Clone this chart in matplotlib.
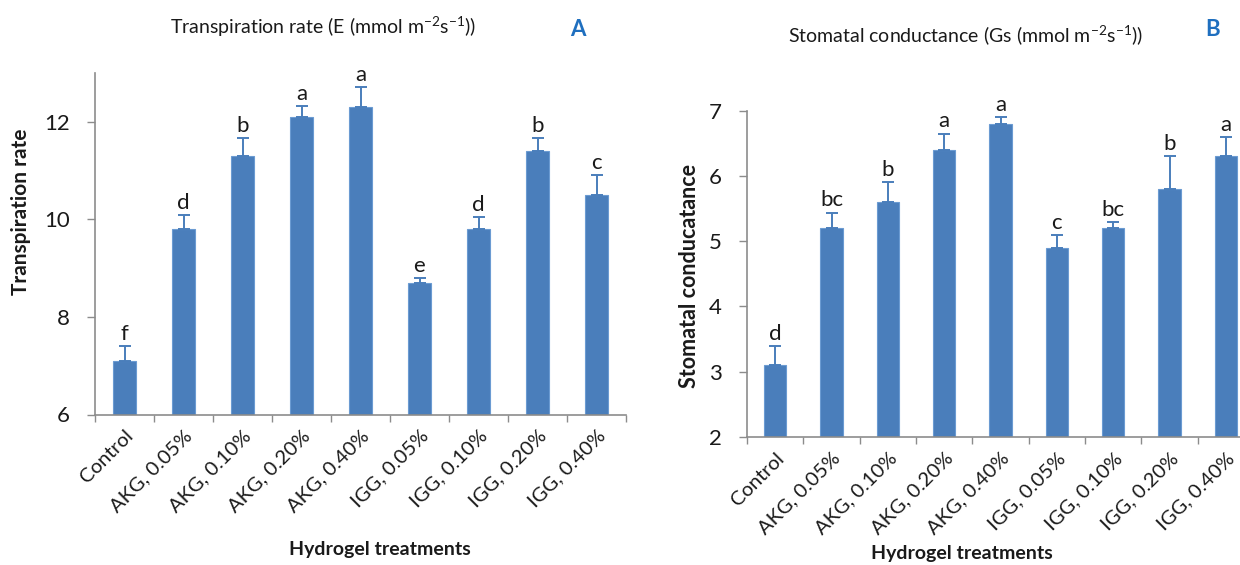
import numpy as np
import matplotlib
matplotlib.use("Agg")
import matplotlib.pyplot as plt

plt.rcParams["font.family"] = ["Lato", "DejaVu Sans"]
plt.rcParams["mathtext.fontset"] = "custom"
plt.rcParams["mathtext.rm"] = "Lato"
plt.rcParams["mathtext.it"] = "Lato:italic"
plt.rcParams["mathtext.bf"] = "Lato:bold"

treatments = ["Control", "AKG, 0.05%", "AKG, 0.10%", "AKG, 0.20%", "AKG, 0.40%",
              "IGG, 0.05%", "IGG, 0.10%", "IGG, 0.20%", "IGG, 0.40%"]

# transpiration rate, E
transp = [7.1, 9.8, 11.3, 12.1, 12.3, 8.7, 9.8, 11.4, 10.5]
transp_err = [0.30, 0.28, 0.37, 0.22, 0.41, 0.10, 0.24, 0.27, 0.41]
transp_letters = ["f", "d", "b", "a", "a", "e", "d", "b", "c"]

# stomatal conductance, Gs
cond = [3.1, 5.2, 5.6, 6.4, 6.8, 4.9, 5.2, 5.8, 6.3]
cond_err = [0.29, 0.24, 0.30, 0.25, 0.10, 0.20, 0.10, 0.50, 0.30]
cond_letters = ["d", "bc", "b", "a", "a", "c", "bc", "b", "a"]

BAR = "#4a7ebb"
EDGE = "#6b9bd2"
AXIS = "#8c8c8c"
TEXT = "#1a1a1a"
PANEL = "#1f6fbf"


def draw_panel(ax, values, errors, letters, ylim, yticks):
    x = np.arange(len(values))
    ax.bar(x, values, width=0.4, color=BAR, edgecolor=EDGE, linewidth=0.8,
           bottom=0, zorder=2)
    ax.errorbar(x, values, yerr=[np.zeros(len(errors)), errors], fmt="none",
                ecolor=BAR, elinewidth=1.4, capsize=4, capthick=1.4, zorder=3)
    for xi, v, e, lab in zip(x, values, errors, letters):
        ax.annotate(lab, (xi, v + e), xytext=(0, 1.5), textcoords="offset points",
                    ha="center", va="bottom", fontsize=16, color=TEXT)
    ax.set_xlim(-0.5, len(values) - 0.5)
    ax.set_ylim(*ylim)
    ax.set_yticks(yticks)
    ax.set_xticks(x)
    ax.set_xticklabels(treatments, rotation=45, ha="right",
                       rotation_mode="anchor", fontsize=14.5, color=TEXT)
    ax.set_xticks(np.arange(len(values) + 1) - 0.5, minor=True)
    ax.tick_params(axis="x", which="major", length=0, pad=9)
    ax.tick_params(axis="x", which="minor", length=5, width=1, color=AXIS)
    ax.tick_params(axis="y", length=6, width=1, color=AXIS, labelsize=16,
                   labelcolor=TEXT, pad=12)
    for side in ("top", "right"):
        ax.spines[side].set_visible(False)
    for side in ("left", "bottom"):
        ax.spines[side].set_color(AXIS)
        ax.spines[side].set_linewidth(1.2)


fig = plt.figure(figsize=(12.4, 5.65), dpi=100)
W, H = 1240, 565

axA = fig.add_axes([95 / W, (H - 414.5) / H, 531 / W, 341.5 / H])
draw_panel(axA, transp, transp_err, transp_letters, (6, 13), [6, 8, 10, 12])

axB = fig.add_axes([747 / W, (H - 437) / H, 507 / W, 326.3 / H])
draw_panel(axB, cond, cond_err, cond_letters, (2, 7), [2, 3, 4, 5, 6, 7])

fig.text(323 / W, 1 - 27 / H, r"Transpiration rate (E (mmol m$^{-2}$s$^{-1}$))",
         ha="center", va="center", fontsize=14, color=TEXT)
fig.text(578 / W, 1 - 30 / H, "A", ha="center", va="center", fontsize=16,
         fontweight="bold", color=PANEL)
fig.text(966 / W, 1 - 35 / H, r"Stomatal conductance (Gs (mmol m$^{-2}$s$^{-1}$))",
         ha="center", va="center", fontsize=14, color=TEXT)
fig.text(1213 / W, 1 - 30 / H, "B", ha="center", va="center", fontsize=16,
         fontweight="bold", color=PANEL)

fig.text(21 / W, 1 - 212 / H, "Transpiration rate", rotation=90, ha="center",
         va="center", fontsize=15, fontweight="bold", color=TEXT)
fig.text(689 / W, 1 - 276 / H, "Stomatal conducatance", rotation=90, ha="center",
         va="center", fontsize=15.5, fontweight="bold", color=TEXT)
fig.text(380 / W, 1 - 549 / H, "Hydrogel treatments", ha="center", va="center",
         fontsize=14, fontweight="bold", color=TEXT)
fig.text(962 / W, 1 - 553 / H, "Hydrogel treatments", ha="center", va="center",
         fontsize=14, fontweight="bold", color=TEXT)

fig.savefig("out.png", dpi=100)
